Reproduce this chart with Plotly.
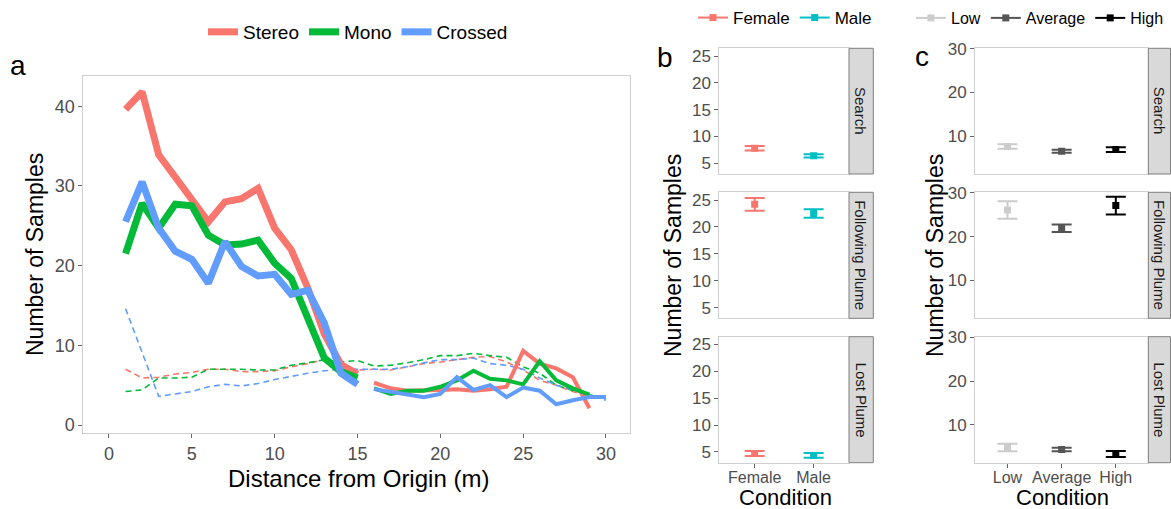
import plotly.graph_objects as go

# ---------------- data ----------------
dist_follow = list(range(1, 16))
dist_lost = list(range(16, 31))
dist_all = list(range(1, 31))

stereo_follow = [39.6, 41.8, 33.9, 31.0, 28.2, 25.5, 28.0, 28.4, 29.7, 24.7, 22.0, 17.2, 11.4, 7.6, 6.4]
mono_follow = [21.5, 27.8, 24.7, 27.7, 27.5, 23.8, 22.6, 22.7, 23.2, 20.3, 18.4, 13.6, 8.4, 6.7, 5.9]
crossed_follow = [25.5, 30.5, 24.7, 21.8, 20.8, 17.8, 23.0, 19.9, 18.7, 18.9, 16.4, 16.9, 12.8, 6.5, 5.1]

stereo_lost = [5.3, 4.6, 4.3, 4.3, 4.4, 4.5, 4.3, 4.5, 4.8, 9.3, 7.7, 7.1, 6.0, 2.1, None]
mono_lost = [4.6, 3.9, 4.3, 4.3, 4.8, 5.6, 6.8, 5.8, 5.6, 5.1, 8.0, 5.6, 4.6, 3.8, None]
crossed_lost = [4.5, 4.2, 3.9, 3.5, 3.9, 6.0, 4.4, 5.0, 3.5, 4.7, 4.3, 2.6, 3.1, 3.5, 3.5]

stereo_search = [7.0, 5.9, 6.0, 6.4, 6.6, 7.0, 7.0, 6.7, 6.7, 6.8, 7.3, 7.7, 8.2, 7.5, 6.9,
                 7.0, 6.9, 7.3, 7.7, 7.9, 8.2, 8.5, 8.6, 7.9, 6.9, 5.6, 5.0, 4.2, 3.6, 3.6]
mono_search = [4.2, 4.4, 5.9, 5.9, 6.0, 7.0, 7.0, 7.0, 6.9, 6.9, 7.5, 7.8, 8.2, 7.9, 8.1,
               7.4, 7.5, 7.8, 8.2, 8.7, 8.7, 9.0, 8.7, 8.5, 7.3, 6.5, 5.0, 4.3, 3.8, 3.3]
crossed_search = [14.6, 9.1, 3.6, 3.9, 4.2, 4.8, 5.1, 4.9, 5.2, 5.7, 6.1, 6.5, 6.8, 7.0, 7.0,
                  7.0, 7.0, 7.3, 7.8, 8.2, 8.2, 8.4, 7.7, 7.5, 7.0, 5.9, 5.0, 4.4, 3.8, 3.1]

series_names = ["Stereo", "Mono", "Crossed"]
series_colors = ["#F8766D", "#00BA38", "#619CFF"]

facets = ["Search", "Following Plume", "Lost Plume"]

sex_levels = ["Female", "Male"]
sex_colors = ["#F8766D", "#00BFC4"]
sex_mean = {"Search": [7.8, 6.4], "Following Plume": [24.2, 22.5], "Lost Plume": [4.7, 4.35]}
sex_se = {"Search": [0.42, 0.3], "Following Plume": [1.2, 0.8], "Lost Plume": [0.47, 0.45]}

cond_levels = ["Low", "Average", "High"]
cond_colors = ["#CCCCCC", "#555555", "#000000"]
cond_mean = {"Search": [7.6, 6.5, 6.9], "Following Plume": [26.1, 21.9, 27.1], "Lost Plume": [4.8, 4.3, 3.3]}
cond_se = {"Search": [0.5, 0.35, 0.55], "Following Plume": [2.0, 0.85, 2.05], "Lost Plume": [0.85, 0.4, 0.7]}

# ---------------- figure ----------------
W, H = 1171, 509
FONT = "Liberation Sans, Arial, sans-serif"
TICKC = "#4D4D4D"
BORDER = "#CFCFCF"


def px_x(p):
    return p / W


def px_y(p):
    return 1 - p / H


fig = go.Figure()

follow_sets = [stereo_follow, mono_follow, crossed_follow]
lost_sets = [stereo_lost, mono_lost, crossed_lost]
search_sets = [stereo_search, mono_search, crossed_search]

for i, name in enumerate(series_names):
    c = series_colors[i]
    fig.add_trace(go.Scatter(x=dist_all, y=search_sets[i], mode="lines",
                             line=dict(color=c, width=1.6, dash="6px,4px"),
                             showlegend=False, xaxis="x", yaxis="y"))
for i, name in enumerate(series_names):
    c = series_colors[i]
    fig.add_trace(go.Scatter(x=dist_lost, y=lost_sets[i], mode="lines",
                             line=dict(color=c, width=4),
                             showlegend=False, xaxis="x", yaxis="y"))
for i, name in enumerate(series_names):
    c = series_colors[i]
    fig.add_trace(go.Scatter(x=dist_follow, y=follow_sets[i], mode="lines", name=name,
                             line=dict(color=c, width=7), legend="legend",
                             showlegend=True, xaxis="x", yaxis="y"))

# panel b
for fi, f in enumerate(facets):
    ax = fi + 2
    for si, s in enumerate(sex_levels):
        fig.add_trace(go.Scatter(
            x=[s], y=[sex_mean[f][si]], mode="lines+markers", name=s,
            marker=dict(color=sex_colors[si], symbol="square", size=7),
            line=dict(color=sex_colors[si], width=2),
            error_y=dict(type="data", array=[sex_se[f][si]], color=sex_colors[si],
                         thickness=2, width=10),
            legend="legend2", showlegend=(fi == 0),
            xaxis="x%d" % ax, yaxis="y%d" % ax))

# panel c
for fi, f in enumerate(facets):
    ax = fi + 5
    for ci, cnd in enumerate(cond_levels):
        fig.add_trace(go.Scatter(
            x=[cnd], y=[cond_mean[f][ci]], mode="lines+markers", name=cnd,
            marker=dict(color=cond_colors[ci], symbol="square", size=7),
            line=dict(color=cond_colors[ci], width=2),
            error_y=dict(type="data", array=[cond_se[f][ci]], color=cond_colors[ci],
                         thickness=2, width=10),
            legend="legend3", showlegend=(fi == 0),
            xaxis="x%d" % ax, yaxis="y%d" % ax))

common_axis = dict(showline=True, mirror=True, linecolor=BORDER, linewidth=1,
                   showgrid=False, zeroline=False, ticks="outside", ticklen=4,
                   tickcolor="#666666", tickwidth=1,
                   tickfont=dict(family=FONT, size=18, color=TICKC))

layout = dict(
    width=W, height=H, autosize=False,
    margin=dict(l=0, r=0, t=0, b=0, pad=0, autoexpand=False),
    paper_bgcolor="white", plot_bgcolor="white",
    font=dict(family=FONT, color="black"),
)

layout["xaxis"] = dict(common_axis, domain=[px_x(83.3), px_x(630)], range=[-1.55, 31.45],
                       tickvals=[0, 5, 10, 15, 20, 25, 30], anchor="y")
layout["yaxis"] = dict(common_axis, domain=[px_y(433.3), px_y(76)], range=[-1.04, 43.79],
                       tickvals=[0, 10, 20, 30, 40], anchor="x")

facet_y = [(48.3, 174), (192.3, 318.3), (336.7, 462.7)]
bx = (719.3, 849)
cx = (975, 1148.3)

small_axis = dict(common_axis, tickfont=dict(family=FONT, size=17, color=TICKC))
cat_font = dict(family=FONT, size=16, color=TICKC)

for fi in range(3):
    top, bot = facet_y[fi]
    # b
    ax = fi + 2
    layout["xaxis%d" % ax] = dict(small_axis, domain=[px_x(bx[0]), px_x(bx[1])],
                                  type="category", categoryorder="array",
                                  categoryarray=sex_levels, range=[-0.6, 1.6],
                                  anchor="y%d" % ax, ticklabelstandoff=-4, tickfont=cat_font,
                                  showticklabels=(fi == 2), ticks=("outside" if fi == 2 else ""))
    layout["yaxis%d" % ax] = dict(small_axis, domain=[px_y(bot), px_y(top)],
                                  range=[3.0, 26.44], tickvals=[5, 10, 15, 20, 25],
                                  anchor="x%d" % ax)
    # c
    ax = fi + 5
    layout["xaxis%d" % ax] = dict(small_axis, domain=[px_x(cx[0]), px_x(cx[1])],
                                  type="category", categoryorder="array",
                                  categoryarray=cond_levels, range=[-0.6, 2.6],
                                  anchor="y%d" % ax, ticklabelstandoff=-4, tickfont=cat_font,
                                  showticklabels=(fi == 2), ticks=("outside" if fi == 2 else ""))
    layout["yaxis%d" % ax] = dict(small_axis, domain=[px_y(bot), px_y(top)],
                                  range=[1.3, 30.15], tickvals=[10, 20, 30],
                                  anchor="x%d" % ax)

leg_common = dict(orientation="h", xanchor="center", yanchor="middle",
                  bgcolor="rgba(0,0,0,0)", itemwidth=30,
                  tracegroupgap=0)
layout["legend"] = dict(leg_common, x=px_x(358), y=px_y(32),
                        font=dict(family=FONT, size=19, color="black"))
layout["legend2"] = dict(leg_common, x=px_x(785), y=px_y(18),
                         font=dict(family=FONT, size=17, color="black"))
layout["legend3"] = dict(leg_common, x=px_x(1040), y=px_y(18),
                         font=dict(family=FONT, size=16, color="black"))

fig.update_layout(**layout)

shapes = []
annotations = []
for fi in range(3):
    top, bot = facet_y[fi]
    for (x0, x1) in [(849, 873.3), (1148.3, 1170.5)]:
        shapes.append(dict(type="rect", xref="paper", yref="paper",
                           x0=px_x(x0), x1=px_x(x1), y0=px_y(bot), y1=px_y(top),
                           fillcolor="#D9D9D9", line=dict(color="#7F7F7F", width=1)))
        annotations.append(dict(xref="paper", yref="paper", x=px_x((x0 + x1) / 2),
                                y=px_y((top + bot) / 2), text=facets[fi], textangle=90,
                                showarrow=False, xanchor="center", yanchor="middle",
                                font=dict(family=FONT, size=15, color="#1A1A1A")))


def label(text, x, y, size, angle=0):
    annotations.append(dict(xref="paper", yref="paper", x=px_x(x), y=px_y(y), text=text,
                            textangle=angle, showarrow=False, xanchor="center",
                            yanchor="middle", font=dict(family=FONT, size=size, color="black")))


label("a", 18, 65, 28)
label("b", 665, 58, 28)
label("c", 922, 57, 28)
label("Number of Samples", 35, 255, 23, -90)
label("Distance from Origin (m)", 358, 478, 24)
label("Number of Samples", 673, 256, 23, -90)
label("Number of Samples", 935, 256, 23, -90)
label("Condition", 785, 497, 22)
label("Condition", 1062, 497, 22)

fig.update_layout(shapes=shapes, annotations=annotations)

fig.write_html("out.html")
